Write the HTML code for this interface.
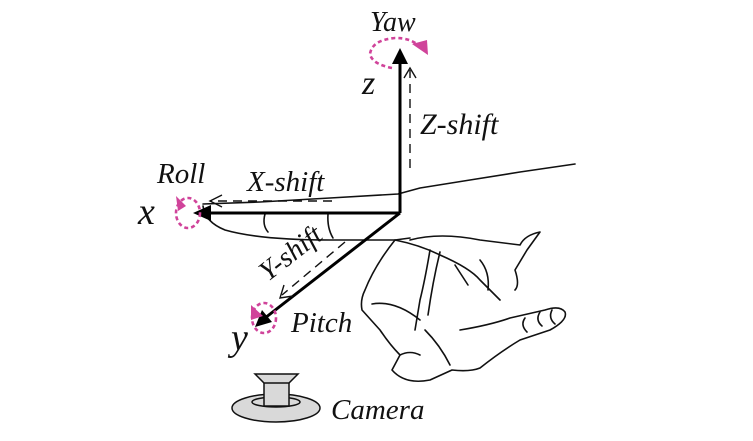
<!DOCTYPE html>
<html><head><style>
html,body{margin:0;padding:0;background:#fff;}
svg{display:block;}
text{font-family:"Liberation Serif",serif;font-style:italic;fill:#111;}
</style></head><body>
<svg width="753" height="441" viewBox="0 0 753 441" xmlns="http://www.w3.org/2000/svg">
<g fill="none" stroke="#111" stroke-width="1.6" stroke-linejoin="round" stroke-linecap="round">
<path d="M203,204 L260,202 L330,198 L398,194 L420,188 L470,180 L520,172 L575,164"/>
<path d="M203,206 Q205,222 225,230 Q260,240 330,240 L395,240 L410,238"/>
<path d="M265,214 Q262,225 268,232"/>
<path d="M328,214 Q327,228 333,238"/>
<path d="M395,240 Q420,245 440,255 Q470,268 480,280 Q490,290 500,300"/>
<path d="M410,240 Q440,232 480,240 L520,245 Q525,235 540,232 L527,250 L515,270 Q520,285 515,290"/>
<path d="M395,240 Q375,265 365,290 Q360,300 362,310 L380,330 Q390,345 400,355 L392,370 Q405,385 430,380 L452,370 Q470,372 480,368 Q500,352 520,340 L550,330 Q568,320 565,312 Q560,305 545,310 L510,318 Q490,325 460,330"/>
<path d="M430,250 Q425,280 420,300 L415,330"/>
<path d="M440,252 Q433,280 428,315"/>
<path d="M455,265 L468,285"/>
<path d="M480,260 Q490,272 488,290"/>
<path d="M372,304 Q395,300 420,320"/>
<path d="M425,330 Q440,345 450,365"/>
<path d="M400,355 Q410,350 420,355"/>
<path d="M525,318 Q520,325 527,332"/>
<path d="M540,312 Q535,320 542,326"/>
<path d="M552,310 Q548,318 555,324"/>
</g>
<g stroke="#000" stroke-width="3" fill="none">
<line x1="400" y1="213" x2="400" y2="62"/>
<line x1="400" y1="213" x2="210" y2="213"/>
<line x1="400" y1="213" x2="265" y2="318"/>
</g>
<polygon points="400,48 392,64 408,64" fill="#000"/>
<polygon points="193,213 211,205 211,221" fill="#000"/>
<polygon points="255,327 262,310 272,322" fill="#000"/>
<g stroke="#111" stroke-width="1.4" fill="none" stroke-dasharray="9,6">
<line x1="410" y1="168" x2="410" y2="70"/>
<line x1="332" y1="201" x2="210" y2="201"/>
<line x1="345" y1="242" x2="282" y2="295"/>
</g>
<g stroke="#111" stroke-width="1.4" fill="none">
<polyline points="404,78 410,68 416,78"/>
<polyline points="222,195 210,201 222,207"/>
<polyline points="284,285 280,298 293,296"/>
</g>
<g stroke="#d0439a" stroke-width="2.6" fill="none" stroke-dasharray="4,3">
<path d="M392,68 Q372,64 370,54 Q372,40 395,38 Q410,38 418,45"/>
<ellipse cx="188" cy="213" rx="12" ry="15"/>
<ellipse cx="264" cy="318" rx="12" ry="15"/>
</g>
<polygon points="428,55 412,44 427,40" fill="#d0439a"/>
<polygon points="176,196 186,206 178,211" fill="#d0439a"/>
<polygon points="251,305 263,316 251,320" fill="#d0439a"/>
<text x="370" y="31" font-size="28">Yaw</text>
<text x="362" y="94" font-size="34">z</text>
<text x="420" y="134" font-size="30">Z-shift</text>
<text x="157" y="183" font-size="29">Roll</text>
<text x="247" y="191" font-size="29">X-shift</text>
<text x="138" y="224" font-size="38">x</text>
<text transform="translate(268,282) rotate(-38)" font-size="28">Y-shift</text>
<text x="291" y="332" font-size="29">Pitch</text>
<text x="231" y="350" font-size="38">y</text>
<text x="331" y="419" font-size="29">Camera</text>
<g stroke="#111" stroke-width="1.5" fill="#d9d9d9">
<ellipse cx="276" cy="408" rx="44" ry="14"/>
<ellipse cx="276" cy="402" rx="24" ry="5"/>
<rect x="264" y="382" width="25" height="24"/>
<polygon points="255,374 298,374 289,383 264,383"/>
</g>
</svg>
</body></html>
